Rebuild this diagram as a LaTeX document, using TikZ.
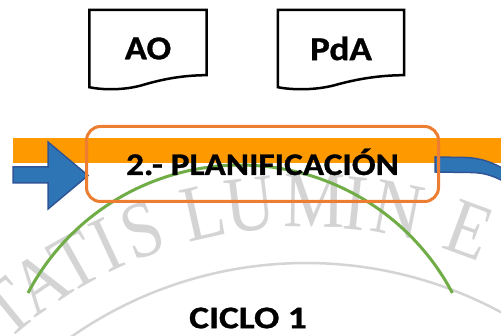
\documentclass[tikz,border=0pt]{standalone}
\usepackage{fontspec}
\setmainfont{Carlito}
\newfontfamily\heavyfont{Carlito}[UprightFont=*-Bold, FakeBold=0.8]
\newfontfamily\wmfont{Liberation Serif}
\usetikzlibrary{calc}
\definecolor{bandorange}{HTML}{FF9900}
\definecolor{boxorange}{HTML}{ED7D31}
\definecolor{arrowblue}{HTML}{2E75B6}
\definecolor{arrowborder}{HTML}{2F5597}
\definecolor{arcgreen}{HTML}{70AD47}
\definecolor{wmgray}{HTML}{D4D4D4}
\begin{document}
\begin{tikzpicture}[x=1pt,y=1pt,
  doctext/.style={font=\fontsize{33.5}{33.5}\selectfont\heavyfont, inner sep=0pt, minimum height=77, text=black},
  docline/.style={draw=black, line width=2.5pt, line join=miter},
  bluearrow/.style={fill=arrowblue, draw=arrowborder, line width=1.5pt, line join=miter},
  bigtext/.style={font=\fontsize{31.5}{31.5}\selectfont\heavyfont, inner sep=0pt, text=black},
  wmletter/.style={font=\fontsize{80}{80}\selectfont\wmfont, text=wmgray, inner sep=0pt, anchor=base}]
\useasboundingbox (0,0) rectangle (501,336);
\fill[white] (0,0) rectangle (501,336);
% watermark
\coordinate (wmc) at (306,-337);
\foreach \ch/\ang [count=\i] in {T/129.3, A/124.2, T/119.3, I/114.9, S/110.3, L/102.6, U/96.8, M/89, I/84, N/78.8, E/69.8}{
  \node[wmletter, rotate=\ang-90] (wm\i) at ($(wmc)+(\ang:446)$) {\scalebox{0.86}[1]{\ch}};
}
\draw[wmgray, line width=2.5pt] ($(wmc)+(132:410)$) arc[start angle=132, end angle=45, radius=410];
% band
\fill[bandorange] (13,173) rectangle (501,198);
% green arc
\draw[arcgreen, line width=3pt] (28,43) arc[start angle=152.15, end angle=27.85, radius=240];
% arrows
\filldraw[bluearrow] (13,153) -- (48,153) -- (48,127) -- (88,160.5) -- (48,194) -- (48,169) -- (13,169) -- cycle;
\filldraw[bluearrow] (435,179) -- (465,178.5) .. controls (482,178) and (495,173) .. (512,162)
  -- (512,150) .. controls (495,160) and (485,163.5) .. (470,163.5) -- (435,164) -- cycle;
% box
\node[bigtext, draw=boxorange, line width=3pt, rounded corners=14pt, minimum width=352, minimum height=75, text height=22, text depth=0pt] (plan) at (262.5,172) {\scalebox{1.12}[1]{2.- PLANIFICACIÓN}};
% documents
\node[doctext, minimum width=117] (ao) at (148,287.5) {\scalebox{1.09}[1]{AO}};
\node[doctext, minimum width=126] (pda) at (341,287.5) {\scalebox{1.11}[1]{PdA}};
\foreach \n in {ao,pda}{
\draw[docline] (\n.south west) -- (\n.north west) -- (\n.north east) -- ([yshift=12]\n.south east)
  .. controls ($(\n.south west)!0.8!(\n.south east)+(0,12)$) and ($(\n.south west)!0.62!(\n.south east)+(0,8)$) .. ($(\n.south west)!0.45!(\n.south east)+(0,2)$)
  .. controls ($(\n.south west)!0.3!(\n.south east)+(0,-3)$) and ($(\n.south west)!0.12!(\n.south east)+(0,-3)$) .. (\n.south west) -- cycle;
}
\node[bigtext] (ciclo) at (248,18) {\scalebox{1.19}[1]{CICLO 1}};
\end{tikzpicture}
\end{document}
